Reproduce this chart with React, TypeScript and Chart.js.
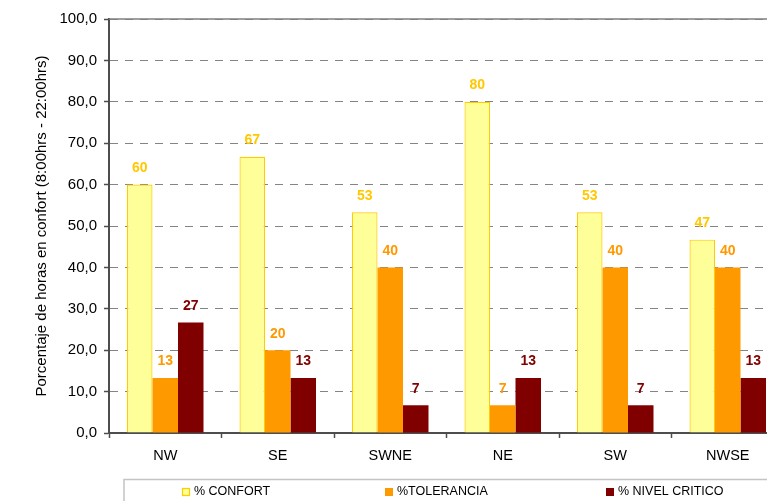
import React, { useEffect, useRef } from "react";
import { Chart, registerables } from "chart.js";

Chart.register(...registerables);

const categories = ["NW", "SE", "SWNE", "NE", "SW", "NWSE"];
const confort = [60, 66.7, 53.3, 80, 53.3, 46.7];
const tolerancia = [13.3, 20, 40, 6.7, 40, 40];
const nivelCritico = [26.7, 13.3, 6.7, 13.3, 6.7, 13.3];
const seriesLabels = ["% CONFORT", "%TOLERANCIA", "% NIVEL CRITICO"];
const yTitle = "Porcentaje de horas en confort (8:00hrs - 22:00hrs)";

const FONT = "'Liberation Sans', Arial, Helvetica, sans-serif";
const labelColors = ["#FFC800", "#FF9900", "#800000"];

const valueLabelsPlugin = {
  id: "valueLabels",
  afterDatasetsDraw(chart: any) {
    const ctx = chart.ctx;
    ctx.save();
    ctx.font = `bold 14px ${FONT}`;
    ctx.textAlign = "center";
    ctx.textBaseline = "middle";
    chart.data.datasets.forEach((ds: any, di: number) => {
      const meta = chart.getDatasetMeta(di);
      meta.data.forEach((el: any, i: number) => {
        const v = ds.data[i];
        ctx.fillStyle = labelColors[di];
        ctx.fillText(String(Math.round(v)), el.x, el.y - 16.5);
      });
    });
    ctx.restore();
  },
};

const frameTopPlugin = {
  id: "frameTop",
  beforeDatasetsDraw(chart: any) {
    const { ctx, chartArea } = chart;
    ctx.save();
    ctx.strokeStyle = "#808080";
    ctx.lineWidth = 1.5;
    ctx.beginPath();
    ctx.moveTo(chartArea.left, chartArea.top);
    ctx.lineTo(chartArea.right, chartArea.top);
    ctx.moveTo(chartArea.right, chartArea.top);
    ctx.lineTo(chartArea.right, chartArea.bottom);
    ctx.stroke();
    ctx.restore();
  },
};

const legendItemX = [182, 385, 606];

const customLegendPlugin = {
  id: "customLegend",
  afterDraw(chart: any) {
    const ctx = chart.ctx;
    ctx.save();
    ctx.strokeStyle = "#c4c4c4";
    ctx.lineWidth = 1.5;
    ctx.strokeRect(124, 479.5, 720, 40);
    ctx.font = `12.5px ${FONT}`;
    ctx.textBaseline = "middle";
    ctx.textAlign = "left";
    chart.data.datasets.forEach((ds: any, i: number) => {
      const x = legendItemX[i];
      const y = 488;
      ctx.fillStyle = ds.backgroundColor;
      ctx.fillRect(x, y, 8, 8);
      if (ds.borderWidth) {
        ctx.strokeStyle = ds.borderColor;
        ctx.lineWidth = 1.2;
        ctx.strokeRect(x + 0.5, y + 0.5, 7, 7);
      }
      ctx.fillStyle = "#000";
      ctx.fillText(ds.label, x + 12, 491.5);
    });
    ctx.restore();
  },
};

export default function App() {
  const ref = useRef<HTMLCanvasElement | null>(null);

  useEffect(() => {
    if (!ref.current) return;
    const chart = new Chart(ref.current, {
      type: "bar",
      data: {
        labels: categories,
        datasets: [
          {
            label: seriesLabels[0],
            data: confort,
            backgroundColor: "#FFFF99",
            borderColor: "#FFCC00",
            borderWidth: 1.2,
          },
          {
            label: seriesLabels[1],
            data: tolerancia,
            backgroundColor: "#FF9900",
            borderWidth: 0,
          },
          {
            label: seriesLabels[2],
            data: nivelCritico,
            backgroundColor: "#800000",
            borderWidth: 0,
          },
        ],
      },
      options: {
        responsive: false,
        animation: false,
        devicePixelRatio: 1,
        categoryPercentage: 0.68,
        barPercentage: 1,
        layout: { padding: { left: 0, right: 0, top: 19, bottom: 0 } },
        plugins: {
          legend: { display: false },
          tooltip: { enabled: false },
          title: { display: false },
        },
        scales: {
          x: {
            afterFit: (s: any) => {
              s.height = 68;
            },
            grid: {
              offset: true,
              drawOnChartArea: false,
              drawTicks: true,
              tickLength: 5,
              tickColor: "#4d4d4d",
              tickWidth: 1.5,
            },
            border: { color: "#4d4d4d", width: 2 },
            ticks: {
              color: "#000",
              padding: 9,
              font: { family: FONT, size: 14.5 },
            },
          },
          y: {
            min: 0,
            max: 100,
            afterFit: (s: any) => {
              s.width = 109;
            },
            ticks: {
              stepSize: 10,
              color: "#000",
              padding: 7,
              font: { family: FONT, size: 15 },
              callback: (v: any) => Number(v).toFixed(1).replace(".", ","),
            },
            grid: {
              color: "#848484",
              lineWidth: 1,
              tickLength: 5,
              tickColor: "#4d4d4d",
              tickWidth: 1.5,
              tickBorderDash: [],
            },
            border: { color: "#4d4d4d", width: 2, dash: [8, 7] },
            title: {
              display: true,
              text: yTitle,
              color: "#000",
              font: { family: FONT, size: 15 },
              padding: { top: 33, bottom: 0 },
            },
          },
        },
      },
      plugins: [frameTopPlugin, valueLabelsPlugin, customLegendPlugin],
    } as any);
    return () => chart.destroy();
  }, []);

  return (
    <div
      style={{
        position: "fixed",
        left: 0,
        top: 0,
        width: 767,
        height: 501,
        overflow: "hidden",
        background: "#fff",
      }}
    >
      <canvas ref={ref} width={784} height={501} style={{ display: "block" }} />
    </div>
  );
}
